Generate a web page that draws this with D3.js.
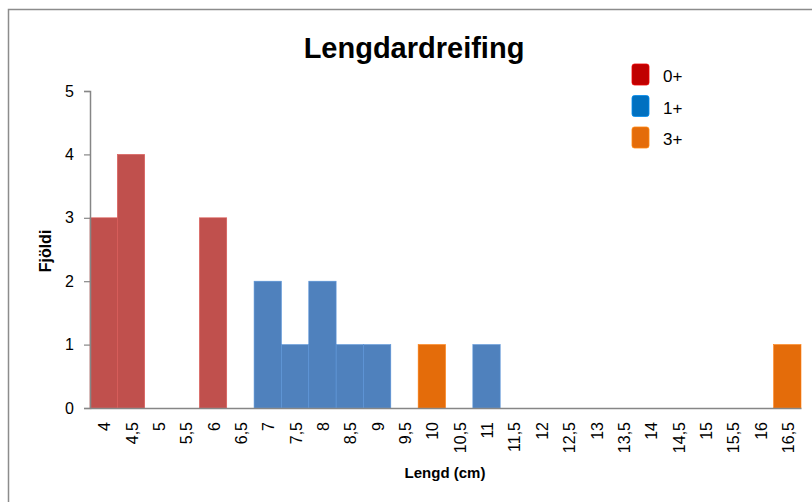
<!DOCTYPE html>
<html>
<head>
<meta charset="utf-8">
<script src="https://cdn.jsdelivr.net/npm/d3@7"></script>
<style>
  html, body { margin: 0; padding: 0; background: #fff; }
  svg { display: block; }
  text { font-family: "Liberation Sans", Arial, sans-serif; fill: #000; }
</style>
</head>
<body>
<svg id="chart" width="812" height="502"></svg>
<script>
const categories = ["4","4,5","5","5,5","6","6,5","7","7,5","8","8,5","9","9,5","10","10,5","11","11,5","12","12,5","13","13,5","14","14,5","15","15,5","16","16,5"];
const seriesNames = ["0+", "1+", "3+"];
const values0 = [3,4,0,0,3,0,0,0,0,0,0,0,0,0,0,0,0,0,0,0,0,0,0,0,0,0];
const values1 = [0,0,0,0,0,0,2,1,2,1,1,0,0,0,1,0,0,0,0,0,0,0,0,0,0,0];
const values3 = [0,0,0,0,0,0,0,0,0,0,0,0,1,0,0,0,0,0,0,0,0,0,0,0,0,1];
const yTicks = [0,1,2,3,4,5];
const title = "Lengdardreifing";
const xTitle = "Lengd (cm)";
const yTitle = "Fjöldi";

const barColors = ["#C0504D", "#4F81BD", "#E46C0A"];
const legendColors = ["#C00000", "#0070C0", "#E46C0A"];
const allSeries = [values0, values1, values3];

const svg = d3.select("#chart");

// outer chart border
svg.append("rect")
  .attr("x", 8.5).attr("y", 9.5).attr("width", 830).attr("height", 520)
  .attr("fill", "none").attr("stroke", "#8c8c8c").attr("stroke-width", 1.5);

const x = d3.scaleBand().domain(categories).range([90, 801]).padding(0);
const y = d3.scaleLinear().domain([0, 5]).range([408, 91]);

// stacked data
const rows = categories.map((c, i) => {
  const o = { cat: c };
  seriesNames.forEach((s, k) => o[s] = allSeries[k][i]);
  return o;
});
const stacked = d3.stack().keys(seriesNames)(rows);

const gBars = svg.append("g");
stacked.forEach((layer, k) => {
  gBars.selectAll(null)
    .data(layer.filter(d => d[1] - d[0] > 0))
    .enter().append("rect")
    .attr("x", d => x(d.data.cat))
    .attr("y", d => y(d[1]))
    .attr("width", x.bandwidth())
    .attr("height", d => y(d[0]) - y(d[1]))
    .attr("fill", barColors[k])
    .attr("stroke", d3.color(barColors[k]).brighter(0.4))
    .attr("stroke-width", 0.6);
});

// Y axis
const yAxis = d3.axisLeft(y).tickValues(yTicks).tickSize(6).tickPadding(10).tickFormat(d3.format("d"));
const gy = svg.append("g").attr("transform", "translate(90,0)").call(yAxis);
gy.select(".domain").attr("stroke", "#868686").attr("stroke-width", 1.5);
gy.selectAll(".tick line").attr("stroke", "#868686").attr("stroke-width", 1.2);
gy.selectAll(".tick text").style("font-size", "16px").style("font-family", "Liberation Sans, Arial, sans-serif");

// X axis
const xAxis = d3.axisBottom(x).tickSize(0).tickPadding(0);
const gx = svg.append("g").attr("transform", "translate(0,408)").call(xAxis);
gx.select(".domain").attr("stroke", "#868686").attr("stroke-width", 1.5);
gx.selectAll(".tick text")
  .style("font-size", "16px")
  .style("font-family", "Liberation Sans, Arial, sans-serif")
  .attr("text-anchor", "end")
  .attr("transform", "rotate(-90)")
  .attr("x", -14)
  .attr("y", 1)
  .attr("dy", "0.35em");

// Titles
svg.append("text").attr("x", 414).attr("y", 58).attr("text-anchor", "middle")
  .style("font-size", "29px").style("font-weight", "bold").text(title);
svg.append("text").attr("x", 445).attr("y", 478).attr("text-anchor", "middle")
  .style("font-size", "15px").style("font-weight", "bold").text(xTitle);
svg.append("text").attr("transform", "translate(51,251) rotate(-90)").attr("text-anchor", "middle")
  .style("font-size", "16px").style("font-weight", "bold").text(yTitle);

// Legend
const lg = svg.append("g");
seriesNames.forEach((s, k) => {
  const yy = 64 + k * 31.5;
  lg.append("rect").attr("x", 632).attr("y", yy).attr("width", 17).attr("height", 21)
    .attr("rx", 2.5).attr("fill", legendColors[k])
    .attr("stroke", d3.color(legendColors[k]).brighter(0.6)).attr("stroke-width", 0.8);
  lg.append("text").attr("x", 663).attr("y", yy + 18).style("font-size", "17px").text(s);
});
</script>
</body>
</html>
